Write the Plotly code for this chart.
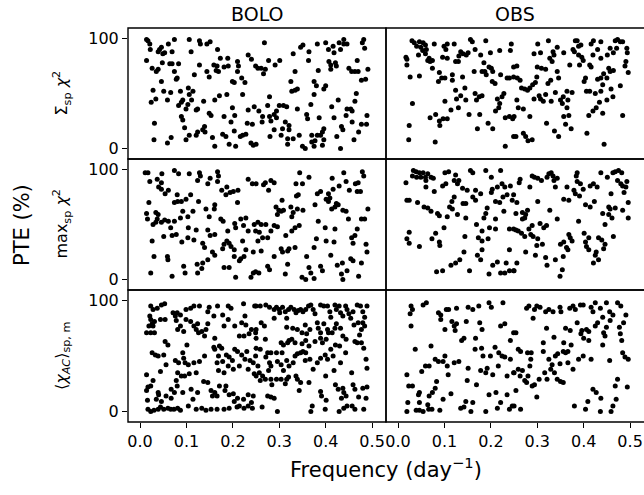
import plotly.graph_objects as go

# PTE (%) against frequency (day^-1) for each statistic and detector set.
# Each list holds (frequency, PTE) pairs.

bolo_sum = [
    (0.014, 99), (0.017, 98), (0.021, 95), (0.022, 90), (0.039, 88), (0.042, 90), (0.046, 92), (0.049, 86),
    (0.053, 87), (0.061, 95), (0.069, 88), (0.074, 99), (0.106, 99), (0.110, 88), (0.128, 98), (0.130, 95),
    (0.144, 95), (0.151, 97), (0.167, 90), (0.173, 82), (0.189, 82), (0.210, 79), (0.212, 75), (0.233, 85),
    (0.240, 81), (0.249, 75), (0.014, 80), (0.026, 73), (0.035, 70), (0.039, 72), (0.048, 78), (0.064, 77),
    (0.069, 77), (0.083, 77), (0.074, 70), (0.080, 64), (0.078, 63), (0.046, 61), (0.128, 76), (0.117, 67),
    (0.144, 70), (0.149, 65), (0.159, 76), (0.164, 71), (0.166, 75), (0.169, 70), (0.181, 74), (0.190, 75),
    (0.199, 61), (0.203, 60), (0.210, 70), (0.219, 64), (0.226, 60), (0.028, 53), (0.034, 45), (0.024, 42),
    (0.051, 52), (0.059, 44), (0.066, 51), (0.087, 52), (0.089, 42), (0.092, 44), (0.104, 55), (0.106, 49),
    (0.114, 52), (0.111, 44), (0.103, 40), (0.083, 39), (0.099, 36), (0.124, 36), (0.121, 35), (0.137, 43),
    (0.149, 32), (0.153, 30), (0.161, 44), (0.171, 48), (0.187, 49), (0.199, 37), (0.221, 49), (0.233, 35),
    (0.246, 38), (0.031, 23), (0.089, 29), (0.092, 26), (0.096, 19), (0.106, 12), (0.099, 8), (0.121, 12),
    (0.124, 15), (0.135, 17), (0.139, 20), (0.140, 15), (0.156, 10), (0.161, 2), (0.178, 13), (0.185, 11),
    (0.181, 29), (0.196, 24), (0.204, 30), (0.203, 16), (0.216, 11), (0.221, 12), (0.228, 13), (0.231, 23),
    (0.242, 22), (0.239, 5), (0.244, 3), (0.192, 4), (0.206, 2), (0.030, 8), (0.059, 5), (0.067, 10),
    (0.268, 96), (0.277, 80), (0.291, 76), (0.301, 80), (0.254, 73), (0.261, 73), (0.266, 68), (0.270, 72),
    (0.330, 86), (0.334, 70), (0.346, 92), (0.351, 94), (0.364, 88), (0.363, 80), (0.382, 95), (0.400, 96),
    (0.406, 90), (0.416, 93), (0.418, 87), (0.429, 96), (0.432, 90), (0.439, 99), (0.439, 95), (0.446, 95),
    (0.479, 96), (0.482, 99), (0.484, 91), (0.407, 79), (0.411, 76), (0.421, 78), (0.423, 75), (0.411, 72),
    (0.384, 71), (0.468, 80), (0.450, 73), (0.456, 70), (0.463, 70), (0.470, 70), (0.491, 72), (0.486, 63),
    (0.477, 62), (0.325, 61), (0.327, 52), (0.334, 53), (0.339, 54), (0.375, 61), (0.380, 57), (0.400, 57),
    (0.396, 54), (0.375, 49), (0.466, 50), (0.463, 43), (0.427, 44), (0.413, 38), (0.368, 40), (0.339, 36),
    (0.279, 47), (0.275, 39), (0.256, 34), (0.264, 29), (0.279, 29), (0.289, 31), (0.294, 34), (0.300, 39),
    (0.309, 39), (0.316, 38), (0.263, 24), (0.282, 25), (0.294, 28), (0.313, 24), (0.321, 21), (0.321, 17),
    (0.307, 18), (0.304, 12), (0.289, 17), (0.280, 11), (0.318, 9), (0.318, 4), (0.330, 9), (0.343, 12),
    (0.359, 31), (0.361, 27), (0.386, 28), (0.418, 28), (0.446, 36), (0.454, 36), (0.457, 34), (0.444, 30),
    (0.457, 24), (0.489, 30), (0.477, 22), (0.488, 22), (0.471, 15), (0.434, 20), (0.437, 17), (0.424, 11),
    (0.396, 18), (0.393, 15), (0.389, 12), (0.396, 8), (0.393, 3), (0.382, 12), (0.370, 12), (0.370, 6),
    (0.377, 7), (0.375, 2), (0.350, 2), (0.356, 0), (0.432, 0), (0.461, 8), (0.250, 4),
]

obs_sum = [
    (0.030, 98), (0.035, 96), (0.040, 93), (0.046, 97), (0.049, 92), (0.054, 96), (0.059, 94), (0.053, 89),
    (0.061, 90), (0.078, 95), (0.099, 93), (0.106, 95), (0.121, 95), (0.103, 90), (0.156, 99), (0.160, 97),
    (0.189, 98), (0.244, 95), (0.017, 83), (0.019, 81), (0.019, 76), (0.044, 85), (0.059, 86), (0.067, 82),
    (0.064, 80), (0.069, 79), (0.074, 80), (0.096, 83), (0.106, 82), (0.135, 88), (0.140, 86), (0.147, 85),
    (0.151, 87), (0.131, 84), (0.124, 79), (0.130, 79), (0.166, 90), (0.178, 85), (0.199, 87), (0.219, 89),
    (0.242, 89), (0.185, 78), (0.196, 74), (0.201, 73), (0.187, 70), (0.181, 70), (0.164, 70), (0.190, 67),
    (0.204, 70), (0.203, 61), (0.209, 59), (0.221, 67), (0.235, 64), (0.240, 64), (0.249, 65), (0.249, 74),
    (0.074, 73), (0.089, 69), (0.087, 61), (0.094, 64), (0.101, 64), (0.117, 67), (0.117, 62), (0.139, 65),
    (0.026, 65), (0.046, 66), (0.124, 53), (0.144, 55), (0.135, 48), (0.126, 45), (0.146, 44), (0.130, 37),
    (0.114, 35), (0.101, 43), (0.166, 50), (0.169, 44), (0.175, 47), (0.181, 48), (0.214, 45), (0.219, 41),
    (0.224, 47), (0.228, 50), (0.217, 37), (0.210, 34), (0.031, 41), (0.069, 28), (0.081, 31), (0.089, 25),
    (0.097, 27), (0.106, 27), (0.090, 21), (0.153, 31), (0.176, 31), (0.194, 23), (0.204, 18), (0.171, 18),
    (0.231, 28), (0.240, 29), (0.247, 27), (0.024, 21), (0.023, 8), (0.080, 6), (0.231, 2), (0.249, 11),
    (0.301, 95), (0.324, 98), (0.343, 92), (0.334, 88), (0.336, 85), (0.293, 86), (0.307, 87), (0.357, 87),
    (0.327, 82), (0.332, 79), (0.377, 90), (0.382, 98), (0.386, 98), (0.389, 93), (0.394, 94), (0.380, 88),
    (0.389, 85), (0.396, 83), (0.399, 80), (0.370, 76), (0.391, 76), (0.413, 76), (0.416, 74), (0.420, 85),
    (0.416, 95), (0.421, 98), (0.437, 97), (0.430, 90), (0.437, 82), (0.451, 85), (0.457, 91), (0.464, 87),
    (0.468, 98), (0.473, 99), (0.479, 97), (0.484, 97), (0.471, 91), (0.493, 91), (0.494, 87), (0.491, 79),
    (0.489, 75), (0.496, 69), (0.464, 71), (0.457, 70), (0.454, 73), (0.443, 68), (0.437, 64), (0.430, 63),
    (0.441, 58), (0.450, 64), (0.404, 64), (0.401, 61), (0.256, 75), (0.257, 64), (0.263, 62), (0.266, 55),
    (0.273, 54), (0.279, 53), (0.284, 55), (0.290, 58), (0.296, 60), (0.299, 65), (0.300, 74), (0.309, 73),
    (0.318, 72), (0.323, 59), (0.329, 62), (0.343, 70), (0.346, 64), (0.256, 44), (0.259, 37), (0.270, 36),
    (0.250, 29), (0.284, 29), (0.293, 45), (0.304, 48), (0.307, 45), (0.313, 43), (0.318, 49), (0.330, 43),
    (0.339, 51), (0.350, 44), (0.354, 41), (0.356, 47), (0.364, 52), (0.366, 44), (0.364, 37), (0.375, 51),
    (0.406, 52), (0.413, 52), (0.425, 50), (0.437, 52), (0.459, 54), (0.463, 47), (0.450, 44), (0.434, 42),
    (0.427, 37), (0.420, 34), (0.411, 30), (0.441, 32), (0.479, 57), (0.484, 30), (0.357, 29), (0.368, 30),
    (0.361, 22), (0.373, 18), (0.337, 16), (0.346, 11), (0.320, 23), (0.407, 14), (0.444, 4), (0.254, 11),
    (0.270, 14), (0.275, 11), (0.280, 7), (0.289, 8),
]

bolo_max = [
    (0.011, 97), (0.017, 97), (0.021, 89), (0.037, 91), (0.047, 96), (0.046, 88), (0.040, 84), (0.046, 82),
    (0.054, 78), (0.061, 81), (0.074, 99), (0.083, 96), (0.106, 96), (0.128, 97), (0.130, 94), (0.124, 90),
    (0.146, 87), (0.151, 92), (0.167, 98), (0.169, 94), (0.167, 89), (0.187, 84), (0.176, 81), (0.185, 77),
    (0.194, 79), (0.201, 80), (0.211, 81), (0.233, 91), (0.242, 87), (0.080, 77), (0.081, 71), (0.074, 70),
    (0.089, 71), (0.099, 73), (0.109, 77), (0.126, 71), (0.019, 70), (0.142, 64), (0.160, 64), (0.161, 68),
    (0.210, 70), (0.014, 60), (0.016, 55), (0.034, 61), (0.039, 59), (0.037, 55), (0.028, 50), (0.034, 52),
    (0.046, 52), (0.053, 54), (0.061, 53), (0.074, 53), (0.087, 56), (0.092, 62), (0.103, 57), (0.114, 62),
    (0.066, 47), (0.149, 57), (0.174, 55), (0.179, 53), (0.204, 51), (0.206, 47), (0.217, 55), (0.228, 56),
    (0.223, 49), (0.233, 44), (0.246, 50), (0.249, 44), (0.051, 39), (0.069, 40), (0.078, 41), (0.104, 47),
    (0.121, 45), (0.103, 38), (0.116, 36), (0.090, 34), (0.146, 45), (0.161, 41), (0.151, 40), (0.189, 44),
    (0.135, 33), (0.139, 29), (0.156, 25), (0.161, 22), (0.146, 18), (0.178, 28), (0.181, 32), (0.187, 35),
    (0.192, 33), (0.196, 30), (0.203, 27), (0.221, 35), (0.228, 27), (0.217, 19), (0.214, 17), (0.203, 21),
    (0.224, 21), (0.244, 25), (0.026, 35), (0.030, 21), (0.059, 21), (0.060, 18), (0.123, 14), (0.135, 15),
    (0.094, 12), (0.097, 6), (0.124, 6), (0.133, 10), (0.181, 11), (0.192, 11), (0.023, 6), (0.069, 3),
    (0.206, 2), (0.239, 2), (0.244, 6), (0.249, 7),
    (0.250, 87), (0.266, 86), (0.270, 88), (0.277, 81), (0.282, 90), (0.289, 88), (0.344, 97), (0.364, 93),
    (0.336, 87), (0.350, 87), (0.341, 77), (0.337, 76), (0.306, 72), (0.293, 66), (0.299, 63), (0.296, 59),
    (0.304, 62), (0.309, 63), (0.325, 66), (0.330, 61), (0.339, 64), (0.351, 63), (0.327, 57), (0.377, 68),
    (0.382, 78), (0.389, 80), (0.401, 73), (0.406, 71), (0.409, 74), (0.406, 78), (0.416, 82), (0.414, 92),
    (0.429, 85), (0.439, 97), (0.444, 89), (0.451, 81), (0.464, 87), (0.468, 80), (0.475, 80), (0.479, 98),
    (0.482, 94), (0.470, 88), (0.413, 64), (0.420, 66), (0.423, 69), (0.427, 68), (0.437, 63), (0.444, 62),
    (0.449, 55), (0.477, 55), (0.484, 55), (0.491, 64), (0.254, 52), (0.261, 50), (0.271, 50), (0.289, 49),
    (0.296, 48), (0.282, 44), (0.257, 43), (0.264, 38), (0.254, 35), (0.275, 38), (0.314, 40), (0.327, 44),
    (0.334, 47), (0.343, 49), (0.384, 53), (0.399, 47), (0.420, 46), (0.380, 37), (0.401, 35), (0.418, 34),
    (0.456, 38), (0.463, 40), (0.459, 33), (0.468, 46), (0.487, 32), (0.489, 25), (0.261, 26), (0.289, 21),
    (0.304, 28), (0.307, 25), (0.318, 26), (0.321, 28), (0.334, 29), (0.375, 29), (0.359, 21), (0.411, 22),
    (0.436, 15), (0.425, 13), (0.454, 19), (0.459, 17), (0.477, 15), (0.446, 8), (0.434, 5), (0.437, 0),
    (0.471, 3), (0.275, 12), (0.279, 9), (0.256, 6), (0.313, 5), (0.318, 14), (0.349, 2), (0.357, 0),
    (0.364, 11), (0.368, 6), (0.375, 1), (0.389, 12), (0.393, 8),
]

obs_max = [
    (0.033, 99), (0.039, 98), (0.046, 97), (0.054, 97), (0.064, 96), (0.031, 94), (0.040, 93), (0.049, 93),
    (0.059, 93), (0.060, 90), (0.071, 93), (0.076, 92), (0.017, 88), (0.101, 97), (0.109, 98), (0.124, 95),
    (0.156, 99), (0.161, 97), (0.189, 99), (0.221, 99), (0.201, 93), (0.060, 84), (0.078, 80), (0.096, 85),
    (0.103, 87), (0.121, 90), (0.131, 90), (0.128, 87), (0.139, 83), (0.149, 81), (0.167, 81), (0.178, 78),
    (0.161, 75), (0.167, 72), (0.203, 82), (0.201, 79), (0.214, 84), (0.224, 87), (0.230, 84), (0.242, 85),
    (0.235, 77), (0.226, 75), (0.246, 72), (0.249, 77), (0.019, 72), (0.024, 72), (0.042, 70), (0.056, 66),
    (0.064, 65), (0.071, 62), (0.085, 60), (0.089, 58), (0.106, 57), (0.121, 75), (0.116, 71), (0.111, 66),
    (0.117, 64), (0.128, 59), (0.140, 69), (0.146, 69), (0.146, 56), (0.192, 65), (0.189, 60), (0.185, 56),
    (0.210, 71), (0.219, 70), (0.228, 62), (0.210, 55), (0.197, 47), (0.210, 46), (0.240, 46), (0.249, 46),
    (0.169, 50), (0.181, 44), (0.173, 38), (0.181, 35), (0.194, 37), (0.099, 47), (0.081, 42), (0.073, 37),
    (0.089, 34), (0.090, 31), (0.024, 43), (0.019, 37), (0.024, 33), (0.046, 30), (0.144, 39), (0.142, 25),
    (0.181, 27), (0.171, 22), (0.178, 18), (0.240, 27), (0.114, 13), (0.124, 15), (0.133, 18), (0.083, 7),
    (0.096, 8), (0.154, 8), (0.196, 5), (0.204, 13), (0.214, 16), (0.221, 6), (0.230, 6), (0.233, 15),
    (0.240, 8), (0.249, 8),
    (0.263, 91), (0.261, 88), (0.284, 84), (0.289, 94), (0.294, 93), (0.301, 92), (0.309, 90), (0.321, 93),
    (0.325, 96), (0.330, 97), (0.334, 94), (0.336, 90), (0.343, 92), (0.339, 84), (0.364, 84), (0.386, 97),
    (0.384, 94), (0.386, 89), (0.393, 87), (0.399, 82), (0.379, 81), (0.382, 78), (0.391, 76), (0.414, 85),
    (0.421, 87), (0.429, 84), (0.437, 97), (0.451, 93), (0.463, 97), (0.468, 98), (0.475, 99), (0.482, 97),
    (0.473, 90), (0.480, 87), (0.484, 85), (0.493, 89), (0.491, 84), (0.487, 79), (0.459, 78), (0.357, 73),
    (0.368, 72), (0.301, 71), (0.256, 70), (0.327, 63), (0.404, 68), (0.414, 66), (0.423, 71), (0.454, 66),
    (0.457, 64), (0.468, 65), (0.484, 63), (0.496, 70), (0.496, 56), (0.441, 60), (0.454, 59), (0.461, 56),
    (0.446, 50), (0.464, 39), (0.268, 61), (0.275, 59), (0.279, 63), (0.273, 56), (0.268, 55), (0.254, 60),
    (0.306, 51), (0.320, 49), (0.314, 47), (0.289, 49), (0.282, 46), (0.343, 55), (0.389, 53), (0.254, 45),
    (0.259, 44), (0.266, 42), (0.273, 39), (0.286, 41), (0.291, 39), (0.301, 37), (0.299, 31), (0.311, 32),
    (0.275, 25), (0.296, 22), (0.318, 20), (0.321, 13), (0.339, 18), (0.356, 21), (0.354, 9), (0.349, 3),
    (0.350, 32), (0.357, 34), (0.368, 41), (0.371, 38), (0.363, 29), (0.366, 27), (0.375, 35), (0.401, 42),
    (0.411, 38), (0.404, 34), (0.406, 30), (0.411, 27), (0.432, 38), (0.439, 36), (0.446, 32), (0.443, 28),
    (0.427, 25), (0.425, 22), (0.432, 18), (0.421, 15), (0.256, 15), (0.250, 8),
]

bolo_ac = [
    (0.023, 95), (0.028, 92), (0.037, 93), (0.046, 96), (0.053, 97), (0.071, 89), (0.080, 89), (0.087, 87),
    (0.099, 92), (0.109, 93), (0.116, 95), (0.128, 95), (0.146, 90), (0.149, 94), (0.167, 95), (0.178, 87),
    (0.190, 95), (0.196, 93), (0.223, 97), (0.226, 86), (0.247, 95), (0.021, 86), (0.023, 83), (0.019, 77),
    (0.026, 79), (0.028, 77), (0.031, 81), (0.014, 71), (0.023, 71), (0.031, 71), (0.044, 83), (0.054, 83),
    (0.076, 86), (0.078, 82), (0.081, 74), (0.087, 77), (0.094, 72), (0.099, 83), (0.109, 81), (0.116, 77),
    (0.121, 74), (0.124, 79), (0.126, 71), (0.133, 72), (0.139, 68), (0.142, 74), (0.146, 79), (0.161, 66),
    (0.159, 86), (0.181, 77), (0.190, 83), (0.204, 77), (0.219, 80), (0.228, 78), (0.214, 68), (0.224, 68),
    (0.235, 70), (0.240, 74), (0.249, 71), (0.054, 63), (0.060, 60), (0.101, 60), (0.026, 53), (0.033, 51),
    (0.039, 50), (0.051, 51), (0.056, 42), (0.076, 46), (0.083, 44), (0.092, 53), (0.094, 48), (0.097, 44),
    (0.104, 42), (0.116, 44), (0.128, 45), (0.139, 50), (0.159, 58), (0.161, 56), (0.171, 59), (0.176, 57),
    (0.169, 50), (0.186, 51), (0.192, 49), (0.199, 46), (0.204, 56), (0.210, 54), (0.219, 51), (0.230, 54),
    (0.226, 47), (0.237, 46), (0.244, 44), (0.249, 50), (0.166, 44), (0.178, 45), (0.190, 41), (0.201, 38),
    (0.214, 41), (0.233, 38), (0.246, 34), (0.169, 37), (0.181, 35), (0.014, 33), (0.044, 36), (0.081, 35),
    (0.089, 32), (0.096, 32), (0.106, 34), (0.121, 35), (0.028, 28), (0.023, 23), (0.017, 22), (0.014, 19),
    (0.039, 17), (0.040, 15), (0.056, 14), (0.067, 20), (0.074, 17), (0.078, 28), (0.080, 23), (0.067, 12),
    (0.092, 17), (0.110, 20), (0.114, 11), (0.124, 17), (0.137, 27), (0.146, 26), (0.153, 19), (0.161, 17),
    (0.156, 14), (0.166, 14), (0.171, 23), (0.185, 23), (0.183, 19), (0.192, 15), (0.201, 16), (0.210, 12),
    (0.223, 11), (0.233, 15), (0.244, 14), (0.240, 8), (0.016, 10), (0.035, 11), (0.046, 9), (0.017, 2),
    (0.023, 0), (0.030, 1), (0.039, 2), (0.044, 4), (0.051, 2), (0.060, 3), (0.066, 2), (0.073, 2),
    (0.081, 3), (0.087, 1), (0.104, 5), (0.121, 2), (0.133, 3), (0.142, 1), (0.153, 2), (0.166, 2),
    (0.181, 2), (0.192, 3), (0.209, 4), (0.224, 3), (0.233, 5), (0.242, 3), (0.203, 9), (0.214, 5),
    (0.250, 95), (0.259, 95), (0.271, 96), (0.279, 94), (0.289, 92), (0.294, 94), (0.300, 92), (0.301, 89),
    (0.307, 94), (0.313, 90), (0.316, 84), (0.320, 92), (0.325, 94), (0.332, 92), (0.336, 89), (0.341, 91),
    (0.346, 92), (0.351, 90), (0.357, 92), (0.363, 95), (0.368, 96), (0.373, 92), (0.377, 88), (0.389, 96),
    (0.396, 95), (0.404, 95), (0.409, 90), (0.411, 85), (0.420, 96), (0.423, 92), (0.429, 95), (0.432, 89),
    (0.437, 86), (0.443, 95), (0.446, 92), (0.450, 88), (0.454, 84), (0.459, 90), (0.468, 96), (0.475, 95),
    (0.480, 90), (0.489, 95), (0.484, 85), (0.470, 80), (0.480, 80), (0.484, 77), (0.477, 74), (0.473, 69),
    (0.468, 62), (0.477, 62), (0.482, 57), (0.487, 47), (0.489, 39), (0.261, 80), (0.268, 77), (0.250, 74),
    (0.289, 84), (0.316, 76), (0.329, 75), (0.339, 74), (0.349, 71), (0.356, 78), (0.359, 70), (0.366, 74),
    (0.382, 80), (0.384, 75), (0.389, 71), (0.396, 79), (0.404, 74), (0.406, 71), (0.414, 71), (0.423, 79),
    (0.420, 75), (0.432, 75), (0.437, 68), (0.444, 65), (0.461, 78), (0.463, 63), (0.443, 53), (0.250, 66),
    (0.250, 57), (0.259, 56), (0.270, 65), (0.275, 53), (0.282, 53), (0.304, 62), (0.309, 60), (0.318, 62),
    (0.321, 64), (0.327, 65), (0.334, 62), (0.349, 61), (0.357, 64), (0.364, 59), (0.377, 63), (0.389, 66),
    (0.393, 62), (0.401, 65), (0.411, 56), (0.421, 60), (0.430, 59), (0.271, 49), (0.279, 44), (0.282, 41),
    (0.277, 37), (0.294, 53), (0.306, 53), (0.296, 45), (0.304, 42), (0.309, 37), (0.316, 46), (0.321, 41),
    (0.330, 44), (0.334, 50), (0.339, 52), (0.346, 53), (0.351, 54), (0.357, 53), (0.356, 46), (0.366, 47),
    (0.373, 38), (0.382, 44), (0.389, 48), (0.399, 51), (0.404, 47), (0.416, 50), (0.418, 37), (0.432, 44),
    (0.456, 35), (0.400, 32), (0.254, 41), (0.250, 32), (0.257, 35), (0.264, 32), (0.270, 29), (0.259, 28),
    (0.282, 29), (0.294, 29), (0.304, 29), (0.316, 29), (0.320, 31), (0.336, 32), (0.339, 29), (0.346, 26),
    (0.364, 26), (0.284, 24), (0.313, 25), (0.343, 19), (0.275, 14), (0.282, 13), (0.289, 12), (0.263, 4),
    (0.296, 0), (0.389, 18), (0.391, 14), (0.401, 10), (0.399, 2), (0.371, 5), (0.368, 0), (0.421, 24),
    (0.427, 20), (0.437, 21), (0.439, 17), (0.444, 14), (0.434, 12), (0.459, 24), (0.463, 20), (0.471, 13),
    (0.480, 21), (0.489, 22), (0.487, 12), (0.429, 0), (0.439, 3), (0.446, 5), (0.457, 5), (0.463, 2),
    (0.482, 2),
]

obs_ac = [
    (0.028, 95), (0.031, 92), (0.026, 88), (0.054, 96), (0.061, 98), (0.087, 89), (0.092, 87), (0.092, 83),
    (0.104, 92), (0.109, 92), (0.126, 93), (0.151, 94), (0.161, 92), (0.174, 95), (0.196, 98), (0.201, 94),
    (0.226, 98), (0.028, 77), (0.101, 74), (0.116, 81), (0.121, 77), (0.126, 79), (0.123, 73), (0.147, 81),
    (0.176, 80), (0.181, 74), (0.221, 77), (0.230, 79), (0.142, 66), (0.137, 64), (0.167, 66), (0.242, 64),
    (0.249, 71), (0.037, 56), (0.071, 59), (0.166, 56), (0.180, 57), (0.183, 50), (0.199, 50), (0.209, 58),
    (0.217, 53), (0.224, 50), (0.230, 49), (0.242, 47), (0.080, 47), (0.087, 45), (0.097, 45), (0.101, 50),
    (0.106, 41), (0.121, 44), (0.131, 45), (0.059, 41), (0.067, 41), (0.051, 36), (0.019, 33), (0.108, 33),
    (0.151, 39), (0.178, 37), (0.189, 35), (0.192, 39), (0.204, 33), (0.216, 41), (0.235, 32), (0.249, 35),
    (0.149, 28), (0.169, 24), (0.023, 23), (0.031, 23), (0.046, 17), (0.044, 15), (0.067, 14), (0.074, 17),
    (0.080, 21), (0.083, 27), (0.097, 11), (0.114, 16), (0.146, 9), (0.161, 8), (0.142, 4), (0.135, 3),
    (0.196, 15), (0.211, 17), (0.221, 8), (0.235, 15), (0.246, 5), (0.021, 8), (0.046, 8), (0.064, 6),
    (0.019, 0), (0.039, 1), (0.046, 1), (0.054, 0), (0.066, 2), (0.073, 2), (0.090, 1), (0.157, 0),
    (0.189, 0), (0.214, 3), (0.240, 2),
    (0.277, 93), (0.282, 95), (0.294, 92), (0.299, 95), (0.306, 94), (0.318, 90), (0.325, 92), (0.334, 90),
    (0.349, 94), (0.351, 90), (0.370, 93), (0.377, 95), (0.382, 92), (0.393, 96), (0.399, 96), (0.416, 94),
    (0.420, 90), (0.425, 98), (0.436, 93), (0.449, 98), (0.456, 90), (0.463, 87), (0.473, 98), (0.480, 95),
    (0.491, 87), (0.291, 84), (0.320, 75), (0.336, 67), (0.361, 75), (0.371, 73), (0.386, 80), (0.394, 70),
    (0.400, 66), (0.396, 73), (0.406, 74), (0.411, 72), (0.411, 64), (0.425, 77), (0.430, 80), (0.441, 85),
    (0.443, 71), (0.446, 68), (0.441, 60), (0.449, 76), (0.457, 82), (0.477, 76), (0.486, 80), (0.479, 70),
    (0.482, 64), (0.254, 71), (0.259, 56), (0.264, 54), (0.279, 53), (0.287, 53), (0.286, 47), (0.284, 41),
    (0.313, 62), (0.313, 54), (0.325, 47), (0.332, 42), (0.339, 50), (0.344, 52), (0.349, 43), (0.356, 54),
    (0.361, 53), (0.366, 54), (0.357, 62), (0.373, 60), (0.366, 44), (0.377, 38), (0.389, 47), (0.399, 50),
    (0.416, 47), (0.456, 46), (0.484, 53), (0.489, 49), (0.496, 47), (0.250, 35), (0.259, 38), (0.263, 32),
    (0.268, 37), (0.273, 28), (0.277, 26), (0.280, 32), (0.289, 23), (0.294, 24), (0.304, 29), (0.316, 35),
    (0.321, 29), (0.329, 38), (0.337, 35), (0.343, 29), (0.350, 27), (0.356, 26), (0.254, 19), (0.299, 13),
    (0.250, 5), (0.264, 2), (0.380, 5), (0.404, 2), (0.409, 9), (0.420, 20), (0.427, 17), (0.437, 12),
    (0.436, 0), (0.459, 0), (0.463, 5), (0.470, 11), (0.468, 23), (0.473, 29), (0.494, 22),
]

col_titles = ["BOLO", "OBS"]
row_labels = [
    "Σ<sub>sp</sub> <i>χ</i><sup>2</sup>",
    "max<sub>sp</sub> <i>χ</i><sup>2</sup>",
    "⟨<i>χ</i><sub><i>AC</i></sub>⟩<sub>sp, m</sub>",
]
x_ticks = [0.0, 0.1, 0.2, 0.3, 0.4, 0.5]
y_ticks = [0, 100]

panels = [[bolo_sum, obs_sum], [bolo_max, obs_max], [bolo_ac, obs_ac]]

W, H = 644, 495
col_px = [(128, 386), (386, 644)]
row_px = [(28, 159), (159, 290), (290, 422)]
x_range = [-0.026, 0.530]
y_range = [-9.5, 109.5]
font = "DejaVu Sans"

fig = go.Figure()
layout = {}
shapes = []
for r in range(3):
    for c in range(2):
        k = r * 2 + c + 1
        pts = panels[r][c]
        fig.add_trace(go.Scatter(
            x=[p[0] for p in pts], y=[p[1] for p in pts], mode="markers",
            marker=dict(color="black", size=5, line=dict(width=0)),
            xaxis=f"x{k}", yaxis=f"y{k}", showlegend=False, hoverinfo="skip",
        ))
        x0, x1 = col_px[c]
        y0, y1 = row_px[r]
        layout[f"xaxis{k}"] = dict(
            domain=[x0 / W, x1 / W], range=x_range, anchor=f"y{k}",
            showline=False, showgrid=False, zeroline=False,
            tickvals=x_ticks, ticktext=[f"{v:.1f}" for v in x_ticks],
            ticks="outside" if r == 2 else "", ticklen=5, tickwidth=1.2, tickcolor="black",
            showticklabels=(r == 2),
            tickfont=dict(family=font, size=16, color="black"),
        )
        layout[f"yaxis{k}"] = dict(
            domain=[1 - y1 / H, 1 - y0 / H], range=y_range, anchor=f"x{k}",
            showline=False, showgrid=False, zeroline=False,
            tickvals=y_ticks, ticks="outside" if c == 0 else "", ticklen=5, tickwidth=1.2,
            tickcolor="black", showticklabels=(c == 0),
            tickfont=dict(family=font, size=16, color="black"),
        )
        # panel frame; the right column runs past the page edge
        shapes.append(dict(
            type="rect", xref="paper", yref="paper", layer="above",
            x0=x0 / W, x1=(x1 / W) if c == 0 else 1.02,
            y0=1 - y1 / H, y1=1 - y0 / H,
            line=dict(color="black", width=1.4), fillcolor="rgba(0,0,0,0)",
        ))

annotations = []
for c, t in enumerate(col_titles):
    annotations.append(dict(
        text=t, x=(col_px[c][0] + col_px[c][1]) / 2 / W, y=1 - 14 / H,
        xref="paper", yref="paper", showarrow=False,
        font=dict(family=font, size=19, color="black"), xanchor="center", yanchor="middle",
    ))
for r, t in enumerate(row_labels):
    annotations.append(dict(
        text=t, x=62 / W, y=1 - (row_px[r][0] + row_px[r][1]) / 2 / H,
        xref="paper", yref="paper", showarrow=False, textangle=-90,
        font=dict(family=font, size=16, color="black"), xanchor="center", yanchor="middle",
    ))
annotations.append(dict(
    text="PTE (%)", x=22 / W, y=1 - 225 / H, xref="paper", yref="paper",
    showarrow=False, textangle=-90, font=dict(family=font, size=21, color="black"),
    xanchor="center", yanchor="middle",
))
annotations.append(dict(
    text="Frequency (day<sup>−1</sup>)", x=386 / W, y=1 - 468 / H, xref="paper", yref="paper",
    showarrow=False, font=dict(family=font, size=21, color="black"),
    xanchor="center", yanchor="middle",
))

fig.update_layout(
    width=W, height=H, margin=dict(l=0, r=0, t=0, b=0),
    paper_bgcolor="white", plot_bgcolor="white",
    annotations=annotations, shapes=shapes, **layout,
)
fig.write_html("out.html")
